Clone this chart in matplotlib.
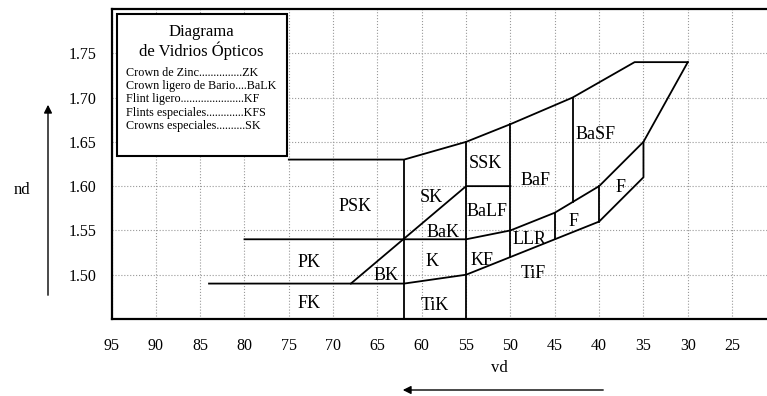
import matplotlib
matplotlib.use("Agg")
import matplotlib.pyplot as plt
from matplotlib.patches import Rectangle

plt.rcParams['font.family'] = ['Liberation Serif', 'DejaVu Serif']

# region borders (vd, nd)
top_vd = [75, 62, 55, 50, 43, 36, 30]
top_nd = [1.63, 1.63, 1.65, 1.67, 1.70, 1.74, 1.74]
right_vd = [30, 35, 35, 40, 45, 50, 55, 62, 84]
right_nd = [1.74, 1.65, 1.61, 1.56, 1.54, 1.52, 1.50, 1.49, 1.49]
mid_vd = [80, 55, 50, 45, 40, 35]
mid_nd = [1.54, 1.54, 1.55, 1.57, 1.60, 1.65]
diag_vd = [68, 55, 50]
diag_nd = [1.49, 1.60, 1.60]
vert_vd = [62, 55, 50, 45, 40, 43]
vert_low = [1.45, 1.45, 1.52, 1.54, 1.56, 1.582]
vert_high = [1.63, 1.65, 1.67, 1.57, 1.60, 1.70]

# region names
names = ["PSK", "SK", "BaK", "K", "PK", "BK", "FK", "TiK", "SSK", "BaLF",
         "KF", "BaF", "BaSF", "F", "F", "LLR", "TiF"]
name_vd = [67.5, 58.9, 57.6, 58.9, 72.7, 64.0, 72.7, 58.5, 52.8, 52.7,
           53.2, 47.2, 40.4, 42.9, 37.6, 47.8, 47.4]
name_nd = [1.577, 1.587, 1.548, 1.515, 1.514, 1.499, 1.468, 1.465, 1.626, 1.571,
           1.516, 1.606, 1.658, 1.560, 1.599, 1.540, 1.501]

x_ticks = [95, 90, 85, 80, 75, 70, 65, 60, 55, 50, 45, 40, 35, 30, 25]
y_ticks = [1.50, 1.55, 1.60, 1.65, 1.70, 1.75]

legend_lines = ["Crown de Zinc...............ZK",
                "Crown ligero de Bario....BaLK",
                "Flint ligero......................KF",
                "Flints especiales.............KFS",
                "Crowns especiales..........SK"]

W, H = 767, 396
fig = plt.figure(figsize=(W / 100, H / 100), dpi=100)
ax = fig.add_axes([111.5 / W, 1 - 319 / H, (W - 111.5) / W, 310 / H])

def px(x, y):
    return x / W, 1 - y / H

ax.plot(top_vd, top_nd, 'k-', lw=1.3)
ax.plot(right_vd, right_nd, 'k-', lw=1.3)
ax.plot(mid_vd, mid_nd, 'k-', lw=1.3)
ax.plot(diag_vd, diag_nd, 'k-', lw=1.3)
for v, lo, hi in zip(vert_vd, vert_low, vert_high):
    ax.plot([v, v], [lo, hi], 'k-', lw=1.3)

for n, v, d in zip(names, name_vd, name_nd):
    ax.text(v, d, n, fontsize=13, ha='center', va='center')

ax.set_xlim(95, 95 - (W - 111.5) / 8.866)
ax.set_ylim(1.45, 1.80)
ax.set_xticks(x_ticks)
ax.set_xticklabels([str(t) for t in x_ticks])
ax.set_yticks(y_ticks)
ax.set_yticklabels(["%.2f" % t for t in y_ticks])
ax.tick_params(axis='both', length=0, labelsize=11.5)
ax.tick_params(axis='x', pad=14)
ax.tick_params(axis='y', pad=11)
ax.grid(True, linestyle=':', color='#999999', linewidth=0.8)
ax.set_axisbelow(True)
ax.spines['right'].set_visible(False)
for s in ['left', 'bottom', 'top']:
    ax.spines[s].set_linewidth(1.6)

# legend box
x0, y0 = px(117, 155.7)
x1, y1 = px(286.7, 14)
fig.add_artist(Rectangle((x0, y0), x1 - x0, y1 - y0, transform=fig.transFigure,
                         facecolor='white', edgecolor='black', lw=1.5, zorder=5))
fig.text(*px(201, 32), "Diagrama", fontsize=12, ha='center', va='center', zorder=6)
fig.text(*px(201, 51), "de Vidrios Ópticos", fontsize=12, ha='center', va='center', zorder=6)
for i, line in enumerate(legend_lines):
    fig.text(*px(126, 72.5 + i * 13.4), line, fontsize=8.7, ha='left', va='center', zorder=6)

# axis names with arrows
fig.text(*px(22, 190), "nd", fontsize=12, ha='center', va='center')
ax.annotate("", xy=(48, H - 102), xytext=(48, H - 298), xycoords='figure pixels',
            textcoords='figure pixels',
            arrowprops=dict(arrowstyle='-|>', color='black', lw=1, mutation_scale=12))
fig.text(*px(499, 368), "vd", fontsize=12, ha='center', va='center')
ax.annotate("", xy=(400, H - 390), xytext=(606, H - 390), xycoords='figure pixels',
            textcoords='figure pixels',
            arrowprops=dict(arrowstyle='-|>', color='black', lw=1, mutation_scale=12))

fig.savefig("out.png", dpi=100)
